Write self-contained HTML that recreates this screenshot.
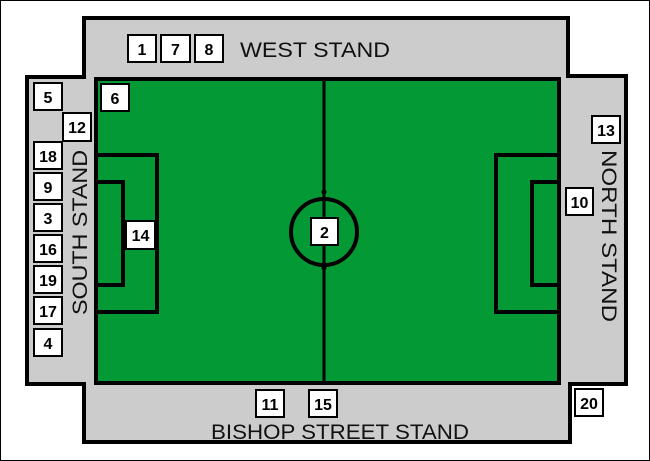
<!DOCTYPE html>
<html><head><style>body{margin:0;background:#fff}svg{display:block}</style></head><body>
<svg width="650" height="461" xmlns="http://www.w3.org/2000/svg" font-family="'Liberation Sans',sans-serif">
<rect x="0.5" y="0.5" width="649" height="460" fill="#fff" stroke="#000" stroke-width="1"/>
<polygon points="84,18 568,18 568,76 626,76 626,384 570,384 570,442 84,442 84,384 27,384 27,77 84,77" fill="#cccccc" stroke="#000" stroke-width="4" stroke-linejoin="miter"/>
<rect x="96" y="79" width="463" height="304" fill="#039934" stroke="#000" stroke-width="4"/>
<g fill="none" stroke="#000" stroke-width="4">
<line x1="324" y1="79" x2="324" y2="383" stroke-width="3"/>
<circle cx="324" cy="232" r="33"/>
<polyline points="96,155 157,155 157,312 96,312"/>
<polyline points="96,182 123,182 123,285 96,285"/>
<polyline points="559,155 496,155 496,312 559,312"/>
<polyline points="559,182 532,182 532,285 559,285"/>
</g>
<circle cx="324" cy="192" r="2.5"/><circle cx="324" cy="268" r="2.5"/>
<g fill="#fff" stroke="#000" stroke-width="2">
<rect x="128" y="35" width="28" height="27"/><rect x="161" y="35" width="29" height="27"/><rect x="195" y="35" width="28" height="27"/>
<rect x="34" y="83" width="28" height="27"/><rect x="101" y="84" width="28" height="27"/><rect x="63" y="113" width="28" height="28"/>
<rect x="34" y="142" width="28" height="27"/><rect x="34" y="173" width="28" height="27"/><rect x="34" y="204" width="28" height="27"/>
<rect x="34" y="235" width="28" height="27"/><rect x="34" y="266" width="28" height="27"/><rect x="34" y="297" width="28" height="27"/><rect x="34" y="329" width="28" height="27"/>
<rect x="126" y="221" width="29" height="28"/><rect x="311" y="218" width="27" height="27"/>
<rect x="592" y="116" width="28" height="27"/><rect x="566" y="188" width="27" height="27"/>
<rect x="256" y="390" width="28" height="27"/><rect x="309" y="390" width="28" height="27"/><rect x="575" y="389" width="28" height="27"/>
</g>
<g font-size="16" font-weight="bold" text-anchor="middle">
<text x="142" y="55">1</text><text x="175.5" y="55">7</text><text x="209" y="55">8</text>
<text x="48" y="103">5</text><text x="115" y="104">6</text><text x="77" y="133">12</text>
<text x="48" y="162">18</text><text x="48" y="193">9</text><text x="48" y="224">3</text>
<text x="48" y="255">16</text><text x="48" y="286">19</text><text x="48" y="317">17</text><text x="48" y="349">4</text>
<text x="140.5" y="241">14</text><text x="324.5" y="238">2</text>
<text x="606" y="136">13</text><text x="579.5" y="208">10</text>
<text x="270" y="410">11</text><text x="323" y="410">15</text><text x="589" y="409">20</text>
</g>
<g font-size="21" fill="#111" lengthAdjust="spacingAndGlyphs">
<text x="240" y="57" textLength="150" lengthAdjust="spacingAndGlyphs">WEST STAND</text>
<text x="211" y="439" textLength="258" lengthAdjust="spacingAndGlyphs">BISHOP STREET STAND</text>
<text transform="translate(87,315) rotate(-90)" textLength="165" lengthAdjust="spacingAndGlyphs">SOUTH STAND</text>
<text transform="translate(602,150) rotate(90)" textLength="172" lengthAdjust="spacingAndGlyphs">NORTH STAND</text>
</g>
</svg>
</body></html>
